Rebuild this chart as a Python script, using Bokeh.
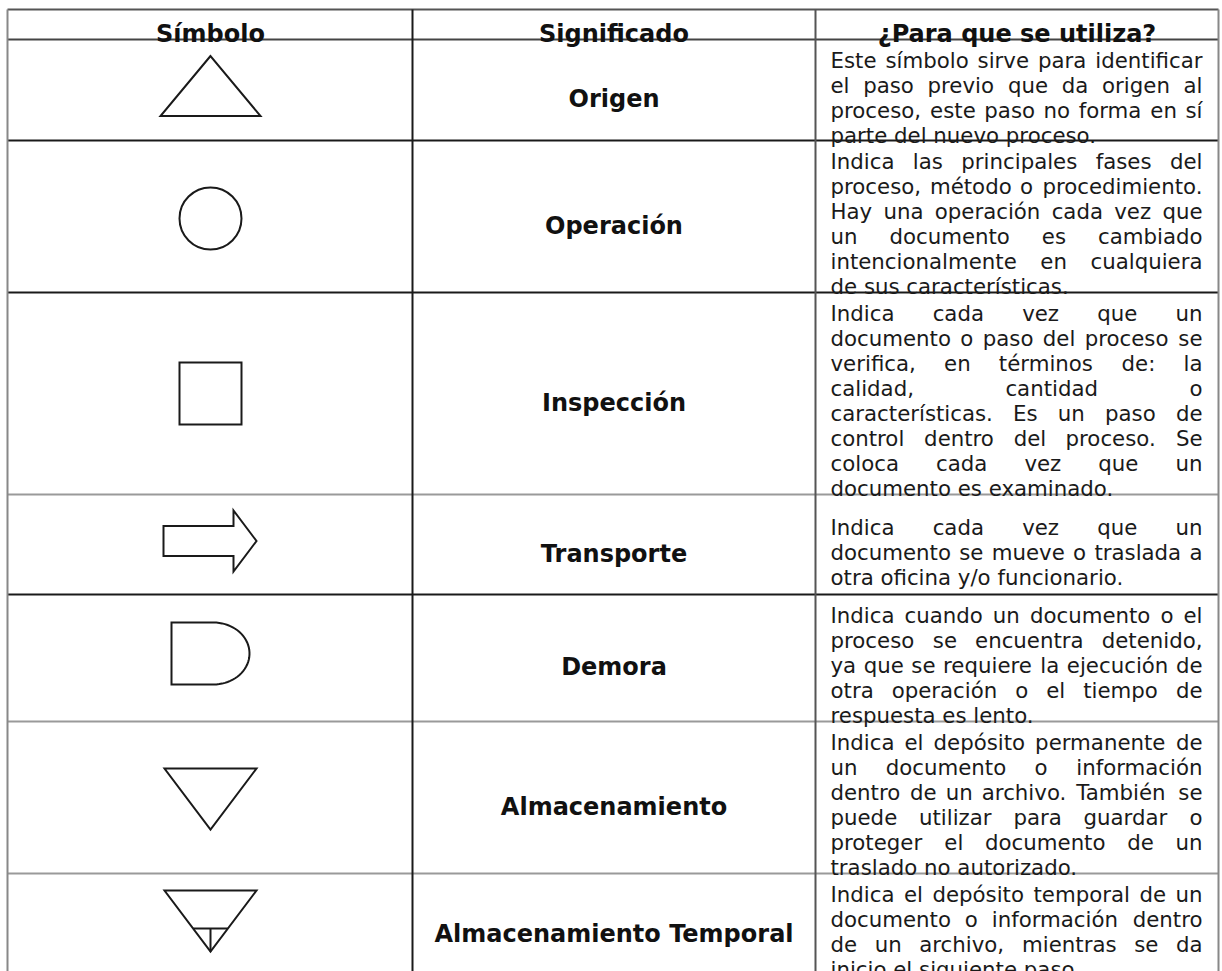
from bokeh.plotting import figure
from bokeh.models import Range1d
from bokeh.embed import file_html
from bokeh.resources import INLINE
from bokeh.core.properties import value
import numpy as np

# ---------------- data ----------------
encabezados = ["Símbolo", "Significado", "¿Para que se utiliza?"]

simbolos = ["triangulo", "circulo", "cuadrado", "flecha", "demora",
            "triangulo_inv", "triangulo_inv_t"]

significados = ["Origen", "Operación", "Inspección", "Transporte", "Demora",
                "Almacenamiento", "Almacenamiento Temporal"]

desc_origen = ["Este símbolo sirve para identificar",
               "el paso previo que da origen al",
               "proceso, este paso no forma en sí",
               "parte del nuevo proceso."]
desc_operacion = ["Indica las principales fases del",
                  "proceso, método o procedimiento.",
                  "Hay una operación cada vez que",
                  "un documento es cambiado",
                  "intencionalmente en cualquiera",
                  "de sus características."]
desc_inspeccion = ["Indica cada vez que un",
                   "documento o paso del proceso se",
                   "verifica, en términos de: la",
                   "calidad, cantidad o",
                   "características. Es un paso de",
                   "control dentro del proceso. Se",
                   "coloca cada vez que un",
                   "documento es examinado."]
desc_transporte = ["Indica cada vez que un",
                   "documento se mueve o traslada a",
                   "otra oficina y/o funcionario."]
desc_demora = ["Indica cuando un documento o el",
               "proceso se encuentra detenido,",
               "ya que se requiere la ejecución de",
               "otra operación o el tiempo de",
               "respuesta es lento."]
desc_almacen = ["Indica el depósito permanente de",
                "un documento o información",
                "dentro de un archivo. También se",
                "puede utilizar para guardar o",
                "proteger el documento de un",
                "traslado no autorizado."]
desc_almacen_t = ["Indica el depósito temporal de un",
                  "documento o información dentro",
                  "de un archivo, mientras se da",
                  "inicio el siguiente paso."]

descripciones = [desc_origen, desc_operacion, desc_inspeccion, desc_transporte,
                 desc_demora, desc_almacen, desc_almacen_t]

# ---------------- layout (page pixel coordinates) ----------------
COL_X = [7, 412, 815, 1218]
ROW_Y = [9, 39, 140, 292, 494, 594, 721, 873, 975]
HLINE_COL = ["#555555", "#444444", "#1a1a1a", "#1a1a1a", "#9a9a9a",
             "#1a1a1a", "#9a9a9a", "#9a9a9a"]
VLINE_COL = ["#888888", "#1a1a1a", "#555555", "#888888"]
BODY_FS = 21.3
BOLD_FS = 24
LINE_H = 25
TXT_L, TXT_R = 830, 1202
FONT = value("DejaVu Sans")

W = {' ': 651, ',': 651, '.': 651, '/': 690, ':': 690,
     'a': 1255, 'b': 1300, 'c': 1126, 'd': 1300, 'e': 1260, 'f': 721,
     'g': 1300, 'h': 1298, 'i': 569, 'j': 569, 'k': 1186, 'l': 569,
     'm': 1995, 'n': 1298, 'o': 1253, 'p': 1300, 'q': 1300, 'r': 842,
     's': 1067, 't': 803, 'u': 1298, 'v': 1212, 'w': 1675, 'x': 1212,
     'y': 1212, 'z': 1075, 'E': 1294, 'H': 1540, 'I': 604, 'S': 1300,
     'T': 1251, 'á': 1255, 'é': 1260, 'í': 569, 'ó': 1253, 'ú': 1298}


def tw(s, size=BODY_FS):
    return sum(W.get(ch, 1200) for ch in s) / 2048.0 * size


p = figure(width=1222, height=971, output_backend="svg", toolbar_location=None,
           x_range=Range1d(0, 1222), y_range=Range1d(971, 0),
           min_border=0, outline_line_color=None, background_fill_color="white")
p.axis.visible = False
p.grid.visible = False

# ---------------- grid lines ----------------
for i, yv in enumerate(ROW_Y[:-1]):
    p.segment(x0=[COL_X[0]], y0=[yv], x1=[COL_X[-1]], y1=[yv],
              line_color=HLINE_COL[i], line_width=2)
for i, xv in enumerate(COL_X):
    p.segment(x0=[xv], y0=[ROW_Y[0]], x1=[xv], y1=[ROW_Y[-1]],
              line_color=VLINE_COL[i], line_width=2)

# ---------------- header ----------------
hx = [(COL_X[i] + COL_X[i + 1]) / 2 for i in range(3)]
hx[0] = 210
p.text(x=hx, y=[33] * 3, text=encabezados, text_font=FONT,
       text_font_style="bold", text_font_size=f"{BOLD_FS}px",
       text_align="center", text_baseline="alphabetic", text_color="#111111")

# ---------------- significado ----------------
centers = [(ROW_Y[r + 1] + ROW_Y[r + 2]) / 2 for r in range(len(significados))]
p.text(x=[613.5] * len(significados), y=[c + 9 for c in centers], text=significados,
       text_font=FONT, text_font_style="bold", text_font_size=f"{BOLD_FS}px",
       text_align="center", text_baseline="alphabetic", text_color="#111111")

# ---------------- descriptions (justified) ----------------
lx, ly, lt, rx, ry, rt = [], [], [], [], [], []
for r, lines in enumerate(descripciones):
    top, bot = ROW_Y[r + 1], ROW_Y[r + 2]
    n = len(lines)
    start = top + max(0.0, (bot - top - n * LINE_H) / 2)
    for i, line in enumerate(lines):
        base = start + i * LINE_H + 20
        words = line.split()
        if i == n - 1 or len(words) == 1:
            lx.append(TXT_L); ly.append(base); lt.append(line)
            continue
        widths = [tw(w) for w in words]
        gap = (TXT_R - TXT_L - sum(widths)) / (len(words) - 1)
        xc = TXT_L
        for j, w in enumerate(words[:-1]):
            lx.append(xc); ly.append(base); lt.append(w)
            xc += widths[j] + gap
        rx.append(TXT_R); ry.append(base); rt.append(words[-1])

p.text(x=lx, y=ly, text=lt, text_font=FONT, text_font_size=f"{BODY_FS}px",
       text_align="left", text_baseline="alphabetic", text_color="#1a1a1a")
p.text(x=rx, y=ry, text=rt, text_font=FONT, text_font_size=f"{BODY_FS}px",
       text_align="right", text_baseline="alphabetic", text_color="#1a1a1a")

# ---------------- symbols ----------------
SX = 210
th = np.linspace(-np.pi / 2, np.pi / 2, 40)
SHAPES = {
    "triangulo": [[(0, -34), (-50, 26), (50, 26)]],
    "cuadrado": [[(-31, -31), (31, -31), (31, 31), (-31, 31)]],
    "flecha": [[(-47, -18.5), (23, -18.5), (23, -34), (46, -3.5), (23, 27),
                (23, 11.5), (-47, 11.5)]],
    "demora": [[(-39, -35.5), (3, -35.5)] +
               [(3 + 36 * np.cos(t), -4.5 + 31 * np.sin(t)) for t in th] +
               [(3, 26.5), (-39, 26.5)]],
    "triangulo_inv": [[(-46, -29), (46, -29), (0, 32)]],
    "triangulo_inv_t": [[(-46, -34), (46, -34), (0, 27)]],
}
px_, py_ = [], []
for r, s in enumerate(simbolos):
    cy = centers[r]
    if s == "circulo":
        p.circle(x=[SX], y=[cy + 2], radius=31, fill_color="white",
                 line_color="#1a1a1a", line_width=2)
        continue
    for poly in SHAPES[s]:
        px_.append([SX + a for a, b in poly])
        py_.append([cy + b for a, b in poly])
    if s == "triangulo_inv_t":
        p.multi_line(xs=[[SX - 17.3, SX + 17.3], [SX, SX]],
                     ys=[[cy + 4, cy + 4], [cy + 4, cy + 27]],
                     line_color="#1a1a1a", line_width=2)

p.patches(xs=px_, ys=py_, fill_color=None, line_color="#1a1a1a", line_width=2,
          line_join="miter")

open("out.html", "w").write(file_html(p, INLINE))
